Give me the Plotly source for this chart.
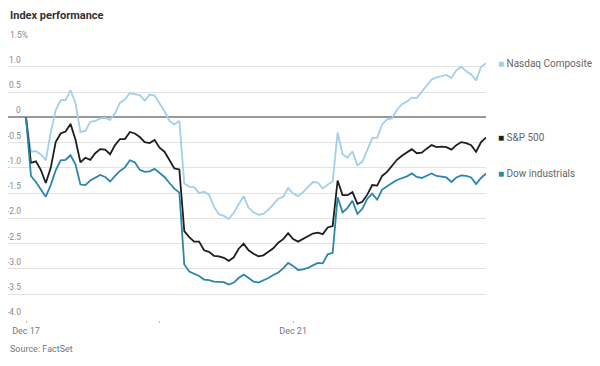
import plotly.graph_objects as go

# time index (intraday intervals), tick labels
t = list(range(94))
tick_vals = [0, 27, 54]
tick_text = ["Dec 17", "", "Dec 21"]

y_vals = [1.5, 1.0, 0.5, 0, -0.5, -1.0, -1.5, -2.0, -2.5, -3.0, -3.5, -4.0]
y_text = ["1.5%", "1.0", "0.5", "0", "-0.5", "-1.0", "-1.5", "-2.0", "-2.5", "-3.0", "-3.5", "-4.0"]

nasdaq = [0.00, -0.68, -0.67, -0.73, -0.85, -0.30, 0.14, 0.34, 0.34, 0.54,
          0.28, -0.29, -0.27, -0.09, -0.07, -0.02, -0.01, -0.05, 0.08, 0.29,
          0.35, 0.48, 0.46, 0.44, 0.33, 0.45, 0.43, 0.28, 0.12, -0.07,
          -0.14, -0.07, -1.31, -1.37, -1.38, -1.50, -1.47, -1.53, -1.77, -1.92,
          -1.95, -2.01, -1.89, -1.72, -1.56, -1.79, -1.88, -1.93, -1.91, -1.83,
          -1.71, -1.61, -1.57, -1.40, -1.51, -1.56, -1.48, -1.38, -1.28, -1.29,
          -1.41, -1.33, -1.27, -0.30, -0.73, -0.80, -0.67, -0.95, -0.88, -0.65,
          -0.41, -0.40, -0.14, -0.04, -0.02, 0.15, 0.26, 0.31, 0.39, 0.38,
          0.51, 0.64, 0.75, 0.79, 0.82, 0.84, 0.78, 0.93, 1.00, 0.91,
          0.85, 0.73, 1.00, 1.07]

sp500 = [0.00, -0.90, -0.87, -1.04, -1.30, -1.00, -0.49, -0.32, -0.28, -0.13,
         -0.44, -0.89, -0.80, -0.84, -0.71, -0.63, -0.64, -0.73, -0.55, -0.43,
         -0.43, -0.29, -0.32, -0.39, -0.49, -0.51, -0.45, -0.60, -0.68, -0.86,
         -1.01, -1.03, -2.25, -2.37, -2.46, -2.46, -2.63, -2.66, -2.74, -2.75,
         -2.78, -2.84, -2.77, -2.60, -2.50, -2.63, -2.70, -2.75, -2.73, -2.66,
         -2.59, -2.48, -2.41, -2.29, -2.41, -2.46, -2.41, -2.35, -2.30, -2.28,
         -2.31, -2.18, -2.15, -1.25, -1.54, -1.54, -1.48, -1.71, -1.67, -1.53,
         -1.34, -1.35, -1.16, -1.08, -0.97, -0.84, -0.76, -0.70, -0.63, -0.71,
         -0.70, -0.62, -0.55, -0.59, -0.58, -0.59, -0.64, -0.55, -0.49, -0.51,
         -0.55, -0.68, -0.49, -0.40]

dow = [0.00, -1.16, -1.28, -1.42, -1.57, -1.34, -1.05, -0.85, -0.84, -0.75,
       -0.93, -1.33, -1.34, -1.25, -1.20, -1.14, -1.18, -1.27, -1.16, -1.06,
       -0.99, -0.85, -0.89, -1.04, -1.08, -1.07, -1.02, -1.10, -1.18, -1.30,
       -1.41, -1.49, -2.91, -3.05, -3.10, -3.14, -3.21, -3.22, -3.25, -3.25,
       -3.26, -3.31, -3.27, -3.18, -3.11, -3.18, -3.25, -3.27, -3.23, -3.18,
       -3.12, -3.07, -2.99, -2.88, -2.94, -3.02, -3.01, -2.98, -2.93, -2.88,
       -2.89, -2.71, -2.68, -1.58, -1.88, -1.79, -1.65, -1.91, -1.81, -1.61,
       -1.51, -1.63, -1.43, -1.36, -1.30, -1.24, -1.21, -1.17, -1.11, -1.18,
       -1.20, -1.16, -1.11, -1.16, -1.17, -1.19, -1.28, -1.19, -1.15, -1.16,
       -1.19, -1.32, -1.20, -1.11]

names = ["Nasdaq Composite", "S&P 500", "Dow industrials"]
colors = ["#a3cfe8", "#1e1e1e", "#2b86ab"]
series = [nasdaq, sp500, dow]

FONT = "Roboto, Liberation Sans, sans-serif"

fig = go.Figure()
for name, col, vals in zip(names, colors, series):
    fig.add_trace(go.Scatter(x=t, y=vals, mode="lines", name=name,
                             line=dict(color=col, width=1.8), showlegend=False))

# end-of-line labels (legend)
for name, col, vals in zip(names, colors, series):
    fig.add_annotation(x=t[-1], y=vals[-1], xref="x", yref="y",
                       text=f'<span style="color:{col}">■</span> {name}',
                       showarrow=False, xanchor="left", yanchor="middle",
                       xshift=10, font=dict(family=FONT, size=10, color="#666"))

# y tick labels, right-aligned above gridlines ("%" hangs past the column)
for v, lab in zip(y_vals, y_text):
    fig.add_annotation(x=0, y=v, xref="paper", yref="y", text=lab,
                       showarrow=False, xanchor="right", yanchor="bottom",
                       xshift=22 if lab.endswith("%") else 15, yshift=0,
                       font=dict(family=FONT, size=8.5, color="#8a8a8a"))

fig.add_annotation(text="<b>Index performance</b>", xref="paper", yref="paper",
                   x=0, y=1, yshift=26, xanchor="left", yanchor="middle", showarrow=False,
                   font=dict(family=FONT, size=11, color="#333"))
fig.add_annotation(text="Source: FactSet", xref="paper", yref="paper",
                   x=0, y=0, yshift=-29, xanchor="left", yanchor="middle", showarrow=False,
                   font=dict(family=FONT, size=9, color="#777"))

fig.update_layout(
    width=592, height=358,
    margin=dict(l=0, r=114, t=33, b=46),
    paper_bgcolor="white", plot_bgcolor="white",
    font=dict(family=FONT, size=9, color="#888"),
    xaxis=dict(range=[-3.64, 93], tickvals=tick_vals, ticktext=tick_text,
               showgrid=False, zeroline=False, showline=False,
               ticks="outside", ticklen=2, tickcolor="#bbb",
               tickfont=dict(family=FONT, size=9, color="#777")),
    yaxis=dict(range=[-4.01, 1.51], tickvals=y_vals, showticklabels=False,
               ticks="", showgrid=True, gridcolor="#e2e2e2", gridwidth=1,
               zeroline=True, zerolinecolor="#999", zerolinewidth=1.6,
               showline=False),
)

fig.write_html("out.html")
